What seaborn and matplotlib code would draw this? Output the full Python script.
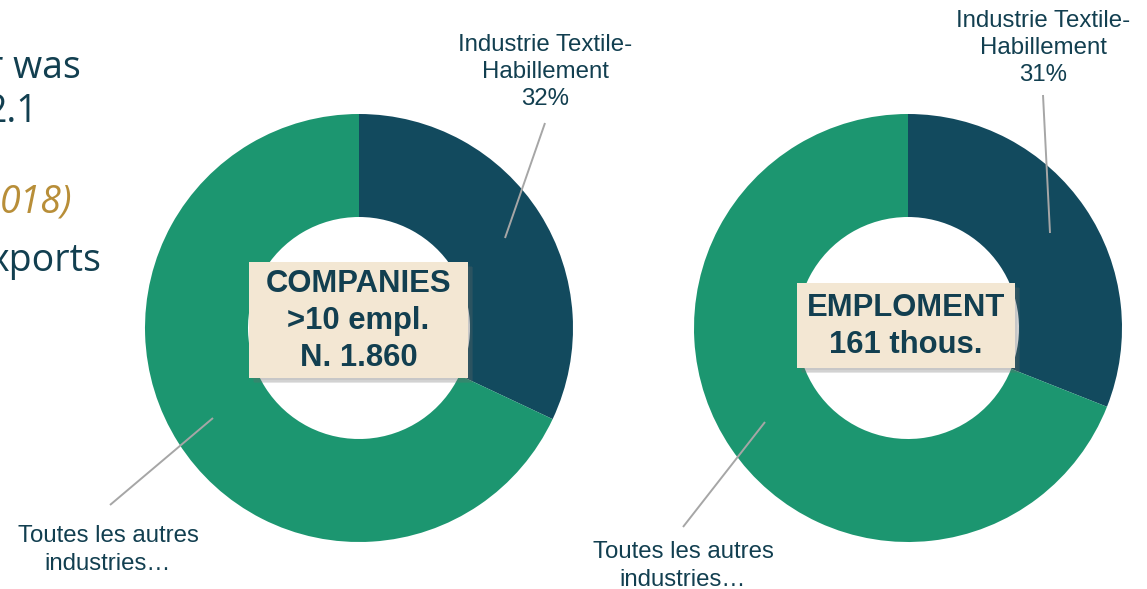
import matplotlib
matplotlib.use("Agg")
import matplotlib.pyplot as plt
from matplotlib.patches import Rectangle
import seaborn as sns

# ---- data ----
segment_labels = ["Industrie Textile-\nHabillement", "Toutes les autres\nindustries…"]
companies_share = [32, 68]
employment_share = [31, 69]
companies_title = "COMPANIES\n>10 empl.\nN. 1.860"
employment_title = "EMPLOMENT\n161 thous."
side_lines = ["r was", "2.1", "018)", "xports"]

NAVY = "#124A5E"
GREEN = "#1C9670"
TEXT = "#123F50"
GOLD = "#B88E38"
BOX = "#F3E7D3"
LINE = "#A6A6A6"

sns.set_theme(style="white")
plt.rcParams["font.family"] = ["Liberation Sans", "DejaVu Sans"]

W, H = 1147, 589
fig = plt.figure(figsize=(W / 100, H / 100), dpi=100)
ax = fig.add_axes([0, 0, 1, 1])


def fy(y):
    return H - y


def donut(cx, cy, values, colors):
    ax.pie(values, colors=colors, startangle=90, counterclock=False,
           center=(cx, fy(cy)), radius=214, frame=True,
           wedgeprops=dict(width=103, edgecolor="none"))


donut(359, 328, companies_share, [NAVY, GREEN])
donut(908, 328, employment_share, [NAVY, GREEN])
ax.set_xlim(0, W)
ax.set_ylim(0, H)
ax.set_aspect("equal")
ax.axis("off")

# leader lines
for (x1, y1, x2, y2) in [(545, 123, 505, 238), (110, 505, 213, 418),
                         (1043, 95, 1050, 233), (683, 527, 765, 422)]:
    ax.plot([x1, x2], [fy(y1), fy(y2)], color=LINE, lw=1.4, solid_capstyle="butt")

lab_kw = dict(ha="center", va="center", fontsize=17.3, color=TEXT, linespacing=1.32)
ax.text(545, fy(72), f"{segment_labels[0]}\n{companies_share[0]}%", **lab_kw)
ax.text(108, fy(550), segment_labels[1], **lab_kw)
ax.text(1043, fy(48), f"{segment_labels[0]}\n{employment_share[0]}%", **lab_kw)
ax.text(683, fy(566), segment_labels[1], **lab_kw)


def center_box(x0, y0, x1, y1, text):
    for i, a in enumerate([0.10, 0.14, 0.18]):
        d = 2 + i * 1.5
        ax.add_patch(Rectangle((x0 + d, fy(y1) - d), x1 - x0, y1 - y0,
                               facecolor="#6a6a6a", alpha=a, edgecolor="none", zorder=3))
    ax.add_patch(Rectangle((x0, fy(y1)), x1 - x0, y1 - y0,
                           facecolor=BOX, edgecolor="none", zorder=4))
    ax.text((x0 + x1) / 2, fy((y0 + y1) / 2 + 1), text, ha="center", va="center",
            fontsize=22.3, fontweight="bold", color=TEXT, linespacing=1.32, zorder=5)


center_box(249, 262, 468, 378, companies_title)
center_box(797, 283, 1015, 368, employment_title)

# partial text on the left (cut off by the figure edge, as in the source slide)
side_kw = dict(ha="right", va="baseline", fontsize=27, color=TEXT, family=["Open Sans", "DejaVu Sans"])
ax.text(81, fy(78), side_lines[0], **side_kw)
ax.text(38, fy(122), side_lines[1], **side_kw)
ax.text(72, fy(212), side_lines[2], **{**side_kw, "color": GOLD, "style": "italic"})
ax.text(101, fy(271), side_lines[3], **side_kw)

fig.savefig("out.png", dpi=100)
